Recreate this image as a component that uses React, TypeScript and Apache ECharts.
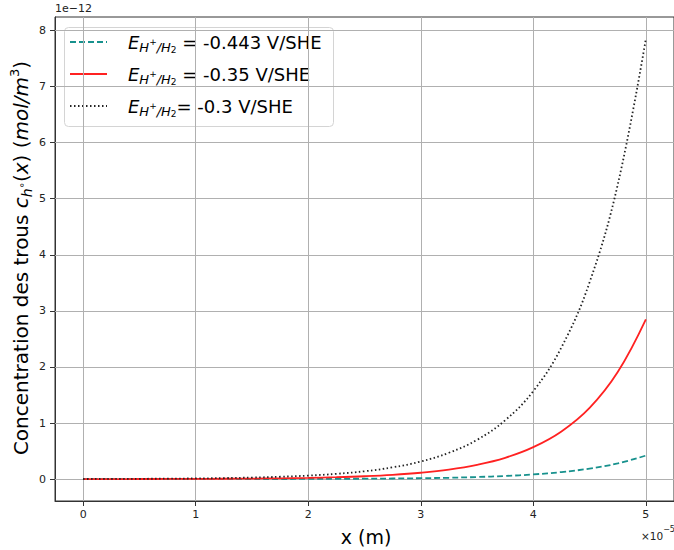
import React, { useEffect, useRef } from 'react';
import * as echarts from 'echarts';

// x in units of 1e-5 m, concentrations in units of 1e-12 mol/m^3
const xValues = [0, 0.25, 0.5, 0.75, 1, 1.25, 1.5, 1.75, 2, 2.25, 2.5, 2.75, 3, 3.25, 3.5, 3.75, 4, 4.25, 4.5, 4.75, 5];
const tealValues = [0.00013, 0.0002, 0.0003, 0.00045, 0.00067, 0.001, 0.0015, 0.0022, 0.0034, 0.005, 0.0075, 0.0112, 0.0168, 0.025, 0.0376, 0.056, 0.084, 0.126, 0.188, 0.28, 0.42];
const redValues = [0.0009, 0.0014, 0.002, 0.003, 0.0046, 0.0068, 0.01, 0.015, 0.023, 0.034, 0.051, 0.076, 0.114, 0.17, 0.255, 0.38, 0.57, 0.85, 1.27, 1.91, 2.85];
const blackValues = [0.0025, 0.0038, 0.0056, 0.0084, 0.0126, 0.019, 0.028, 0.042, 0.063, 0.094, 0.14, 0.21, 0.314, 0.47, 0.7, 1.05, 1.57, 2.35, 3.51, 5.25, 7.85];
const xTicks = [0, 1, 2, 3, 4, 5];
const yTicks = [0, 1, 2, 3, 4, 5, 6, 7, 8];
const legendValues = [' = -0.443 V/SHE', ' = -0.35 V/SHE', '= -0.3 V/SHE'];

const FONT = 'DejaVu Sans';

export default function App() {
  const ref = useRef<HTMLDivElement>(null);
  useEffect(() => {
    document.body.style.margin = '0';
    const chart = echarts.init(ref.current as HTMLDivElement, null, { renderer: 'svg' });
    const zip = (ys: number[]) => xValues.map((x, i) => [x, ys[i]]);
    const colors = ['#17918d', '#ff2121', '#222222'];
    const dashes: any[] = [[6, 3], 'solid', [1.5, 2.5]];
    const seriesVals = [tealValues, redValues, blackValues];

    const legendRows = [42, 74, 106];
    const legendChildren: any[] = [
      {
        type: 'rect',
        shape: { x: 64.5, y: 27.5, width: 269, height: 99, r: 4 },
        style: { fill: 'rgba(255,255,255,0.8)', stroke: '#d4d4d4', lineWidth: 1 },
      },
    ];
    legendRows.forEach((y, i) => {
      legendChildren.push({
        type: 'line',
        shape: { x1: 70, y1: y, x2: 107, y2: y },
        style: { stroke: colors[i], lineWidth: 2, lineDash: dashes[i] === 'solid' ? null : dashes[i] },
      });
      legendChildren.push({
        type: 'text',
        x: 128,
        y: y,
        style: {
          text: '{e|E}{s|H}{sp|+}{s|/H}{sb|2}{n|' + legendValues[i] + '}',
          align: 'left',
          verticalAlign: 'middle',
          fill: '#000',
          fontFamily: FONT,
          rich: {
            e: { fontSize: 18, fontStyle: 'italic', fontFamily: FONT, lineHeight: 24, verticalAlign: 'middle', fill: '#000' },
            s: { fontSize: 13, fontStyle: 'italic', fontFamily: FONT, lineHeight: 16, verticalAlign: 'bottom', fill: '#000' },
            sp: { fontSize: 9, fontFamily: FONT, lineHeight: 14, verticalAlign: 'middle', fill: '#000' },
            sb: { fontSize: 9, fontFamily: FONT, lineHeight: 10, verticalAlign: 'bottom', fill: '#000' },
            n: { fontSize: 18, fontFamily: FONT, lineHeight: 24, verticalAlign: 'middle', fill: '#000' },
          },
        },
      });
    });

    const option: any = {
      animation: false,
      backgroundColor: '#fff',
      grid: { left: 55, top: 17, width: 621.5, height: 484, show: true, borderColor: '#333', borderWidth: 1, backgroundColor: 'transparent' },
      xAxis: {
        type: 'value', min: -0.25, max: 5.25,
        axisLine: { show: true, onZero: false, lineStyle: { color: '#333', width: 1 } },
        axisTick: { show: true, customValues: xTicks, length: 5, lineStyle: { color: '#333' } },
        axisLabel: { customValues: xTicks, fontSize: 11, color: '#222', margin: 8, fontFamily: FONT },
        splitLine: { show: false },
      },
      yAxis: {
        type: 'value', min: -0.39, max: 8.24,
        axisLine: { show: true, onZero: false, lineStyle: { color: '#333', width: 1 } },
        axisTick: { show: true, customValues: yTicks, length: 5, lineStyle: { color: '#333' } },
        axisLabel: { customValues: yTicks, fontSize: 11, color: '#222', margin: 9, fontFamily: FONT },
        splitLine: { show: false },
      },
      series: [
        {
          type: 'line', data: [], silent: true, z: 1,
          markLine: {
            silent: true, z: 1, symbol: ['none', 'none'], label: { show: false },
            lineStyle: { color: '#b0b0b0', width: 1, type: 'solid' },
            emphasis: { disabled: true },
            data: [...xTicks.map((v) => ({ xAxis: v })), ...yTicks.map((v) => ({ yAxis: v }))],
          },
        },
        ...seriesVals.map((vals, i) => ({
          type: 'line',
          data: zip(vals),
          showSymbol: false,
          symbol: 'none',
          smooth: 0.4,
          z: 3 + i,
          lineStyle: { color: colors[i], width: 1.8, type: dashes[i] },
        })),
      ],
      graphic: [
        { type: 'group', z: 100, children: legendChildren },
        {
          type: 'text', x: 21, y: 258, rotation: Math.PI / 2, z: 100,
          style: {
            text: '{n|Concentration des trous }{i|c}{s|h}{o|∘}{n|(}{i|x}{n|) (}{i|mol/m}{p|3}{n|)}',
            align: 'center', verticalAlign: 'middle', fill: '#000', fontFamily: FONT,
            rich: {
              n: { fontSize: 20, fontFamily: FONT, lineHeight: 26, verticalAlign: 'middle', fill: '#000' },
              i: { fontSize: 20, fontFamily: FONT, fontStyle: 'italic', lineHeight: 26, verticalAlign: 'middle', fill: '#000' },
              s: { fontSize: 14, fontFamily: FONT, fontStyle: 'italic', lineHeight: 15, verticalAlign: 'bottom', fill: '#000' },
              o: { fontSize: 10, fontFamily: FONT, lineHeight: 20, verticalAlign: 'middle', fill: '#000' },
              p: { fontSize: 13, fontFamily: FONT, lineHeight: 16, verticalAlign: 'top', fill: '#000' },
            },
          },
        },
        {
          type: 'text', x: 366, y: 537, z: 100,
          style: { text: 'x (m)', align: 'center', verticalAlign: 'middle', fontSize: 19, fontFamily: FONT, fill: '#000' },
        },
        {
          type: 'text', x: 55, y: 8, z: 100,
          style: { text: '1e−12', align: 'left', verticalAlign: 'middle', fontSize: 11, fontFamily: FONT, fill: '#222' },
        },
        {
          type: 'text', x: 641, y: 533, z: 100,
          style: {
            text: '{a|×10}{b|−5}', align: 'left', verticalAlign: 'middle', fontFamily: FONT, fill: '#222',
            rich: {
              a: { fontSize: 10.5, fontFamily: FONT, lineHeight: 16, verticalAlign: 'bottom', fill: '#222' },
              b: { fontSize: 8, fontFamily: FONT, lineHeight: 16, verticalAlign: 'top', fill: '#222' },
            },
          },
        },
      ],
    };
    chart.setOption(option);
    return () => chart.dispose();
  }, []);
  return <div ref={ref} style={{ width: 674, height: 550 }} />;
}
